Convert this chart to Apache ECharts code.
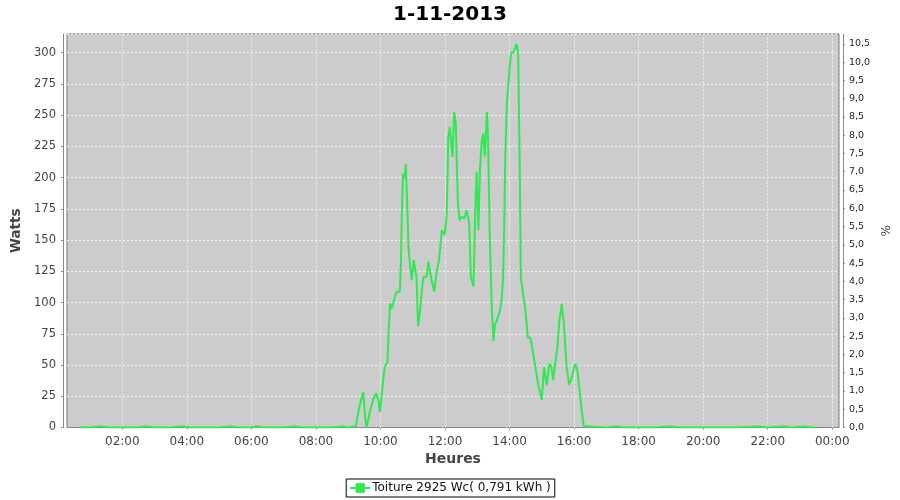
<!DOCTYPE html>
<html>
<head>
<meta charset="utf-8">
<script src="https://cdn.jsdelivr.net/npm/echarts@6/dist/echarts.min.js"></script>
<style>html,body{margin:0;padding:0;background:#fff}#c{width:900px;height:500px}</style>
</head>
<body>
<div id="c"></div>
<script>
const title = '1-11-2013';
const seriesName = 'Toiture 2925 Wc( 0,791 kWh )';
const peakWatts = 2925;
const times = ['00:41','01:00','01:20','01:35','02:00','02:30','02:45','03:00','03:30','03:50','04:05','04:30','05:00','05:20','05:35','06:00','06:10','06:25','07:00','07:20','07:35','08:00','08:30','08:50','09:00','09:07','09:14','09:20','09:25','09:28','09:31','09:34','09:40','09:46','09:52','09:56','09:59','10:02','10:05','10:08','10:13','10:15','10:18','10:20','10:23','10:27','10:30','10:36','10:38','10:40','10:42','10:45','10:47','10:50','10:52','10:55','10:58','11:02','11:04','11:07','11:10','11:14','11:17','11:20','11:26','11:29','11:32','11:35','11:40','11:45','11:49','11:54','11:59','12:03','12:05','12:06','12:09','12:12','12:14','12:17','12:20','12:22','12:24','12:27','12:31','12:36','12:40','12:45','12:48','12:53','12:56','12:59','13:02','13:05','13:08','13:11','13:14','13:18','13:20','13:23','13:27','13:30','13:33','13:36','13:39','13:42','13:45','13:48','13:50','13:52','13:55','13:58','14:00','14:03','14:07','14:10','14:13','14:16','14:19','14:21','14:26','14:29','14:34','14:38','14:41','14:47','14:53','15:00','15:04','15:09','15:14','15:18','15:21','15:24','15:29','15:32','15:37','15:41','15:46','15:51','15:56','16:02','16:06','16:11','16:14','16:18','16:30','17:00','17:20','17:35','18:00','18:30','19:00','19:15','20:00','20:30','21:00','21:40','22:00','22:30','22:45','23:10','23:20','23:28'];
const watts = [0,0,0.8,0,0,0,0.8,0,0,0.8,0,0,0,0.8,0,0,0.8,0,0,0.8,0,0,0,0.8,0,0.5,1,15,24,28.5,10,0,12,22,27.5,22,12.5,25,38,48.5,52.5,75,99.5,95,98,105,108.6,108.6,131.5,175,203,200,211,175,144.6,130,118,134,128,120.6,81,95,110,120.6,120.6,132.6,131,118,108.6,126,134,158,154,168.7,206,231.5,240.7,225,216.7,252.8,243.5,210,179.4,166,168.7,167.4,174,163.4,120.6,112.6,171.4,204.7,158,206,227.4,235.4,216.7,252.8,232.7,157,96,69.4,82.7,85.4,84,93.4,101.4,120,160,216,259,276,287,300,300,299,307,299,205,120,104,96,72,72,67,51,35,22,48.5,34,51,48.5,38,36.5,64.5,83,99,83,48.5,34,40.5,51,46,27,14,1.3,0.8,0,0.8,0,0,0,0.8,0,0,0,0,0.8,0,0.8,0,0.8,0,0];
const xTicks = ['02:00','04:00','06:00','08:00','10:00','12:00','14:00','16:00','18:00','20:00','22:00','24:00'];

const toMin = s => { const p = s.split(':'); return (+p[0]) * 60 + (+p[1]); };
const fmtMin = v => { const m = Math.round(v) % 1440; const h = Math.floor(m / 60), mm = m % 60; return String(h).padStart(2,'0') + ':' + String(mm).padStart(2,'0'); };
const data = times.map((t, i) => [toMin(t), watts[i]]);
const tickVals = xTicks.map(toMin);
const yMax = 315;
const font = 'DejaVu Sans';
const gridLine = {color: '#f2f2f2', type: [2, 2], width: 1};

const chart = echarts.init(document.getElementById('c'), null, {renderer: 'canvas'});
chart.setOption({
  animation: false,
  backgroundColor: '#ffffff',
  title: {text: title, left: 'center', top: 0, textStyle: {fontFamily: font, fontSize: 20, fontWeight: 'bold', color: '#000'}},
  grid: {left: 67, right: 61, top: 34, bottom: 72.5, containLabel: false, outerBoundsMode: 'none', show: true, backgroundColor: '#cccccc', borderColor: '#7a7a7a', borderWidth: 1},
  legend: {
    bottom: 3, left: 'center', data: [seriesName],
    borderColor: '#000', borderWidth: 1, padding: [3, 4, 3, 3], itemWidth: 20, itemHeight: 12, itemGap: 4,
    textStyle: {fontFamily: font, fontSize: 12, color: '#111', padding: [0,0,0,-3]}
  },
  xAxis: {
    type: 'value', min: 17.2, max: 1452.5, offset: 4,
    name: 'Heures', nameLocation: 'middle', nameGap: 20,
    nameTextStyle: {fontFamily: font, fontSize: 14, fontWeight: 'bold', color: '#444'},
    axisLine: {show: true, lineStyle: {color: '#888'}},
    axisTick: {show: true, length: 2, customValues: tickVals, lineStyle: {color: '#888'}},
    axisLabel: {customValues: tickVals, formatter: fmtMin, fontFamily: font, fontSize: 12, color: '#444', margin: 4},
    splitLine: {show: false}
  },
  yAxis: [{
    type: 'value', min: 0, max: yMax, interval: 25, offset: 4, position: 'left',
    name: 'Watts', nameLocation: 'middle', nameGap: 33,
    nameTextStyle: {fontFamily: font, fontSize: 13.5, fontWeight: 'bold', color: '#444'},
    axisLine: {show: true, lineStyle: {color: '#888'}},
    axisTick: {show: true, length: 2, lineStyle: {color: '#888'}},
    axisLabel: {fontFamily: font, fontSize: 11.5, color: '#444', margin: 7, showMaxLabel: false,
      formatter: v => (v % 25 === 0 ? String(v) : '')},
    splitLine: {show: true, lineStyle: gridLine}
  }, {
    type: 'value', min: 0, max: yMax / peakWatts * 100, interval: 0.5, offset: 4, position: 'right',
    name: '%', nameLocation: 'middle', nameGap: 34,
    nameTextStyle: {fontFamily: font, fontSize: 12, color: '#444'},
    axisLine: {show: true, lineStyle: {color: '#888'}},
    axisTick: {show: true, length: 2, lineStyle: {color: '#888'}},
    axisLabel: {fontFamily: font, fontSize: 9.5, color: '#222', margin: 6, showMaxLabel: false,
      formatter: v => (Math.abs(v * 2 - Math.round(v * 2)) < 1e-6 ? v.toFixed(1).replace('.', ',') : '')},
    splitLine: {show: false}
  }],
  series: [{
    name: '__grid', type: 'line', data: [], z: 1, silent: true,
    markLine: {silent: true, z: 1, zlevel: 0, symbol: ['none', 'none'], label: {show: false}, animation: false,
      lineStyle: gridLine, emphasis: {disabled: true},
      data: tickVals.map(v => ({xAxis: v}))}
  }, {
    name: seriesName, type: 'line', data: data, yAxisIndex: 0, z: 10,
    symbol: 'rect', symbolSize: 4, showSymbol: false,
    lineStyle: {color: '#30e852', width: 2},
    itemStyle: {color: '#30e852'}
  }]
});
</script>
</body>
</html>
